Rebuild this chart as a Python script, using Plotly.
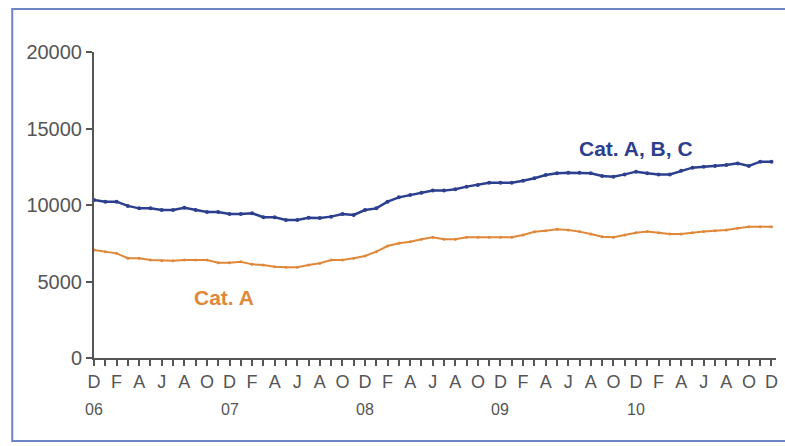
import plotly.graph_objects as go

# Months Dec 2006 .. Dec 2011 (61 monthly points)
month_letters = ["D", "J", "F", "M", "A", "M", "J", "J", "A", "S", "O", "N"]
year_labels = ["06", "07", "08", "09", "10"]
y_ticks = [0, 5000, 10000, 15000, 20000]

cat_abc = [10330, 10220, 10220, 9940, 9780, 9780, 9670, 9670, 9820, 9670,
           9540, 9540, 9410, 9410, 9460, 9200, 9200, 9020, 9020, 9170,
           9150, 9240, 9410, 9350, 9670, 9780, 10220, 10500, 10650, 10800,
           10940, 10940, 11030, 11200, 11310, 11460, 11460, 11460, 11590, 11750,
           11960, 12070, 12110, 12110, 12070, 11900, 11850, 12000, 12180, 12070,
           12000, 12000, 12240, 12440, 12500, 12550, 12610, 12720, 12550, 12830,
           12830]
cat_a = [7060, 6950, 6840, 6520, 6520, 6400, 6360, 6360, 6400, 6400,
         6400, 6230, 6230, 6290, 6120, 6080, 5970, 5930, 5930, 6080,
         6190, 6400, 6400, 6520, 6670, 6950, 7320, 7500, 7600, 7760,
         7890, 7760, 7760, 7890, 7890, 7890, 7890, 7890, 8040, 8250,
         8320, 8410, 8370, 8260, 8100, 7930, 7890, 8040, 8190, 8260,
         8190, 8100, 8100, 8190, 8260, 8320, 8370, 8480, 8580, 8580,
         8580]

n = len(cat_abc)
x = list(range(n))
tick_text = [month_letters[i % 12] if i % 2 == 0 else "" for i in x]

blue = "#2b3f8e"
orange = "#e0883a"
grey = "#555555"

fig = go.Figure()
fig.add_trace(go.Scatter(x=x, y=cat_abc, mode="lines+markers", name="Cat. A, B, C",
                         line=dict(color=blue, width=2.5),
                         marker=dict(color=blue, size=4)))
fig.add_trace(go.Scatter(x=x, y=cat_a, mode="lines+markers", name="Cat. A",
                         line=dict(color=orange, width=2),
                         marker=dict(color=orange, size=3)))

font = "Liberation Sans, Arial, sans-serif"

annotations = []
for k, yl in enumerate(year_labels):
    annotations.append(dict(x=12 * k, y=-0.167, xref="x", yref="paper", text=yl,
                            yanchor="middle", xanchor="center",
                            showarrow=False, font=dict(family=font, size=16, color=grey)))
annotations.append(dict(x=48, y=13700, xref="x", yref="y", text="<b>Cat. A, B, C</b>",
                        showarrow=False, font=dict(family=font, size=21, color=blue)))
annotations.append(dict(x=11.5, y=3950, xref="x", yref="y", text="<b>Cat. A</b>",
                        showarrow=False, font=dict(family=font, size=21, color=orange)))

fig.update_layout(
    width=785, height=446,
    margin=dict(l=94, r=7, t=52, b=88),
    paper_bgcolor="white", plot_bgcolor="white",
    showlegend=False,
    font=dict(family=font, color=grey),
    annotations=annotations,
    shapes=[dict(type="rect", xref="paper", yref="paper",
                 x0=-0.1199, x1=1.3, y0=-0.2712, y1=1.1405,
                 line=dict(color="#6f86c6", width=2), layer="below")],
)
fig.update_xaxes(range=[0, 60.4], tickmode="array", tickvals=x, ticktext=tick_text,
                 ticks="outside", ticklen=6, tickcolor=grey, tickwidth=1.5,
                 showline=True, linecolor=grey, linewidth=2, showgrid=False,
                 zeroline=False, tickfont=dict(size=18, color=grey), tickangle=0)
fig.update_yaxes(range=[0, 20000], tickmode="array", tickvals=y_ticks,
                 ticktext=[str(v) for v in y_ticks],
                 ticks="outside", ticklen=6, tickcolor=grey, tickwidth=1.5,
                 showline=True, linecolor=grey, linewidth=2, showgrid=False,
                 zeroline=False, tickfont=dict(size=20, color=grey))

fig.write_html("out.html", config={"displayModeBar": False},
               post_script="document.body.style.margin='0';document.body.style.overflow='hidden';")
